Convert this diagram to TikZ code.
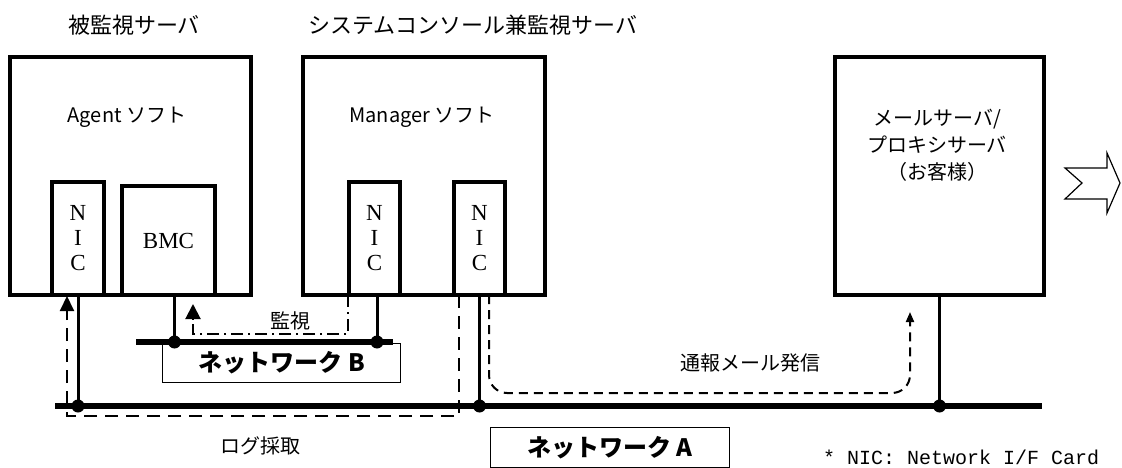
\documentclass[tikz,border=0pt]{standalone}
\usepackage{fontspec}
\usetikzlibrary{arrows.meta}
\newfontfamily\jp{Noto Sans CJK JP}
\newfontfamily\nicserif{Liberation Serif}
\newfontfamily\monof{Liberation Mono}
\tikzset{
  box/.style={draw, line width=4pt, inner sep=0pt, anchor=north west},
  nicbox/.style={box, align=center, font=\nicserif\fontsize{23}{25}\selectfont},
  lbl/.style={inner sep=0pt, font=\jp\fontsize{20}{24}\selectfont},
  ttl/.style={inner sep=0pt, font=\jp\fontsize{22}{24}\selectfont},
  netbox/.style={draw, line width=1.3pt, inner sep=0pt, anchor=north west, font=\jp\bfseries\fontsize{24}{26}\selectfont},
  wire/.style={line width=3pt},
  bus/.style={line width=6pt},
  jdot/.style={circle, fill, inner sep=0pt, minimum size=13pt},
  logpath/.style={line width=2pt, dash pattern=on 13pt off 8pt, -{Triangle[length=15pt,width=14pt]}},
  monpath/.style={line width=2pt, dash pattern=on 12pt off 5pt on 2pt off 5pt, -{Triangle[length=15pt,width=15pt]}},
  mailpath/.style={line width=2pt, dash pattern=on 9pt off 6pt, rounded corners=18pt, -{Triangle[length=10pt,width=8pt]}}
}
\begin{document}
\begin{tikzpicture}[x=1pt,y=-1pt]
\useasboundingbox (0,0) rectangle (1122,468);
% titles
\node[ttl] (t1) at (134,25) {被監視サーバ};
\node[ttl, anchor=west] (t2) at (308,25) {システムコンソール兼監視サーバ};
% servers
\node[box, minimum width=241pt, minimum height=238pt] (s1) at (8,55) {};
\node[box, minimum width=242pt, minimum height=238pt] (s2) at (301,55) {};
\node[box, minimum width=209pt, minimum height=238pt] (mail) at (833,55) {};
\node[lbl] (agent) at (127,117) {Agent ソフト};
\node[lbl] (mgr) at (422,117) {Manager ソフト};
\node[lbl, align=center, font=\jp\fontsize{20}{27}\selectfont] (mailt) at (937,145) {メールサーバ/\\プロキシサーバ\\（お客様）};
% NIC / BMC
\node[nicbox, minimum width=52pt, minimum height=113pt] (nic1) at (50,180) {N\\I\\C};
\node[box, minimum width=93pt, minimum height=109pt, font=\nicserif\fontsize{23}{26}\selectfont] (bmc) at (120,184) {BMC};
\node[nicbox, minimum width=51pt, minimum height=113pt] (nic2a) at (347,180) {N\\I\\C};
\node[nicbox, minimum width=51pt, minimum height=113pt] (nic2b) at (452,180) {N\\I\\C};
% networks
\coordinate (naL) at (55,406);
\coordinate (naR) at (1042,406);
\coordinate (nbL) at (136,342);
\coordinate (nbR) at (393,342);
\node[netbox, minimum width=238pt, minimum height=39pt] (nb) at (162,343) {ネットワーク B};
\node[netbox, minimum width=239pt, minimum height=40pt] (na) at (490,427) {ネットワーク A};
\draw[bus] (naL) -- (naR);
\draw[bus] (nbL) -- (nbR);
% drops
\coordinate (bmcb) at ([xshift=6pt]bmc.south);
\coordinate (n2ab) at ([xshift=2.5pt]nic2a.south);
\node[jdot] (d1) at (nic1.south |- naL) {};
\node[jdot] (d2) at (bmcb |- nbL) {};
\node[jdot] (d3) at (n2ab |- nbL) {};
\node[jdot] (d4) at (nic2b.south |- naL) {};
\node[jdot] (d5) at (mail.south |- naL) {};
\draw[wire] (nic1.south) -- (d1.center);
\draw[wire] (bmcb) -- (d2.center);
\draw[wire] (n2ab) -- (d3.center);
\draw[wire] (nic2b.south) -- (d4.center);
\draw[wire] (mail.south) -- (d5.center);
% log collection
\coordinate (lgS) at (459,295);
\coordinate (lgT) at (67,296);
\draw[logpath] (lgS) -- (459,416) -- (67,416) -- (lgT);
\node[lbl] (lgl) at (260,446) {ログ採取};
% monitoring
\coordinate (mnS) at (348,295);
\coordinate (mnT) at (193,304);
\draw[monpath] (mnS) -- (348,334) -- (193,334) -- (mnT);
\node[lbl] (mnl) at (290,321) {監視};
% mail notification
\coordinate (mlS) at (489,295);
\coordinate (mlT) at (910,312);
\draw[mailpath] (mlS) -- (489,393) -- (910,393) -- (mlT);
\node[lbl] (mll) at (750,363) {通報メール発信};
% block arrow
\draw[line width=1.2pt, line join=miter] (1065,168) -- (1107,168) -- (1107,153) -- (1120,183) -- (1107,213) -- (1107,199) -- (1065,199) -- (1082,183) -- cycle;
% footnote
\node[inner sep=0pt, anchor=west, font=\monof\fontsize{20}{22}\selectfont] (fn) at (823,457) {* NIC: Network I/F Card};
\end{tikzpicture}
\end{document}
